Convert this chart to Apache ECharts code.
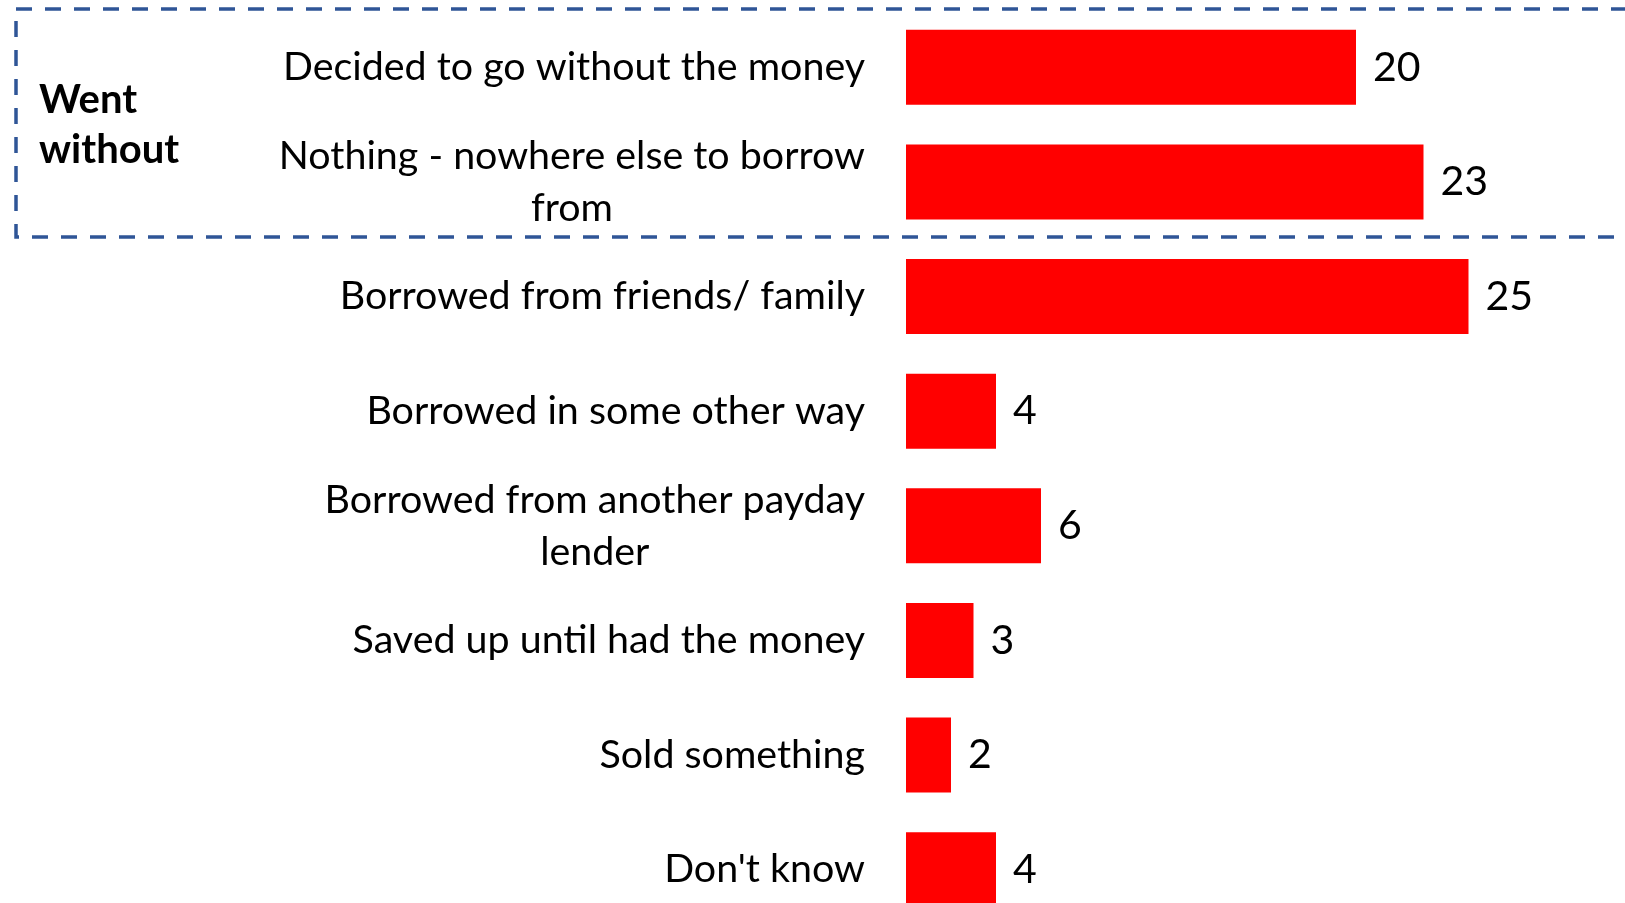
<!DOCTYPE html>
<html>
<head>
<meta charset="utf-8">
<title>What borrowers did instead</title>
<script src="https://cdn.jsdelivr.net/npm/echarts@6/dist/echarts.min.js"></script>
<style>
  html, body { margin: 0; padding: 0; background: #ffffff; }
  #chart { width: 1625px; height: 903px; }
</style>
</head>
<body>
<div id="chart"></div>
<script>
// Responses, top to bottom
const categories = [
  'Decided to go without the money',
  'Nothing - nowhere else to borrow from',
  'Borrowed from friends/ family',
  'Borrowed in some other way',
  'Borrowed from another payday lender',
  'Saved up until had the money',
  'Sold something',
  "Don't know"
];
// Share of respondents (%)
const values = [20, 23, 25, 4, 6, 3, 2, 4];
// Heading for the group outlined at the top
const groupTitle = ['Went', 'without'];

const FONT = 'Lato, "Open Sans", sans-serif';
const WRAP_CHARS = 32;

// Greedy word wrap on character count
function wrap(text, maxChars) {
  const words = text.split(' ');
  const lines = [];
  let cur = '';
  words.forEach(w => {
    const next = cur ? cur + ' ' + w : w;
    if (next.length > maxChars && cur) { lines.push(cur); cur = w; }
    else { cur = next; }
  });
  if (cur) lines.push(cur);
  return lines;
}

const chart = echarts.init(document.getElementById('chart'), null, { renderer: 'canvas' });

chart.setOption({
  backgroundColor: '#ffffff',
  animation: false,
  grid: {
    left: 906, top: 10, width: 675, height: 917,
    containLabel: false,
    outerBoundsMode: 'none'
  },
  xAxis: {
    type: 'value', min: 0, max: 30,
    show: false
  },
  yAxis: {
    type: 'category',
    data: categories,
    inverse: true,
    axisLine: { show: false },
    axisTick: { show: false },
    splitLine: { show: false },
    axisLabel: {
      margin: 41,
      align: 'right',
      color: '#000000',
      fontFamily: FONT,
      fontSize: 39.4,
      lineHeight: 52,
      formatter: v => wrap(v, WRAP_CHARS).map(l => '{c|' + l + '}').join('\n'),
      rich: {
        c: { align: 'center', color: '#000000', fontFamily: FONT, fontSize: 39.4, lineHeight: 52 }
      }
    }
  },
  series: [{
    type: 'bar',
    data: values,
    barWidth: 75,
    itemStyle: { color: '#ff0000' },
    label: {
      show: true,
      position: 'right',
      distance: 17,
      color: '#000000',
      fontFamily: FONT,
      fontSize: 41
    }
  }],
  graphic: [
    {
      type: 'rect',
      shape: { x: 16, y: 9, width: 1700, height: 228 },
      style: { fill: 'none', stroke: '#2f5597', lineWidth: 3.5, lineDash: [16, 13] },
      silent: true
    },
    {
      type: 'text',
      left: 39,
      top: 75,
      style: {
        text: groupTitle.join('\n'),
        fontFamily: FONT,
        fontWeight: 'bold',
        fontSize: 40,
        lineHeight: 50,
        fill: '#000000'
      }
    }
  ]
});
</script>
</body>
</html>
